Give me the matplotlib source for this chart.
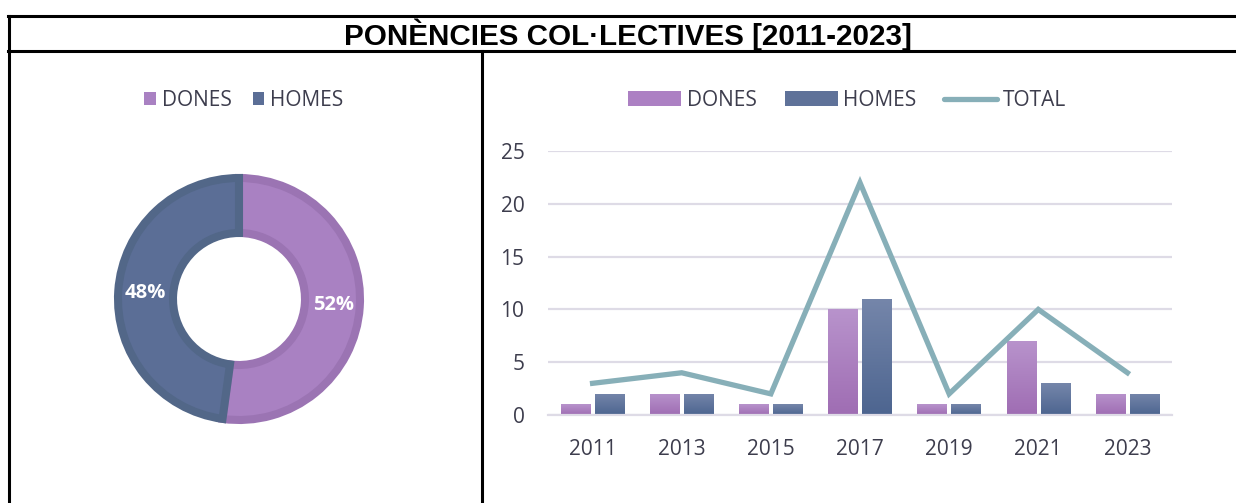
import numpy as np
import matplotlib
matplotlib.use('Agg')
import matplotlib.pyplot as plt
from matplotlib.colors import LinearSegmentedColormap
from matplotlib.patches import Patch
from matplotlib.lines import Line2D

# Dades
anys = ['2011', '2013', '2015', '2017', '2019', '2021', '2023']
dones = [1, 2, 1, 10, 1, 7, 2]
homes = [2, 2, 1, 11, 1, 3, 2]
total = [3, 4, 2, 22, 2, 10, 4]
etiquetes = ['DONES', 'HOMES']

plt.rcParams['font.family'] = ['Open Sans', 'DejaVu Sans']
text_color = '#3d3d4d'

fig = plt.figure(figsize=(12.36, 5.03), dpi=100)
W, H = 1236, 503

def fx(px):
    return px / W

def fy(py):
    return 1 - py / H

# Marc de la taula
lw = 2.2
fig.add_artist(Line2D([fx(8), 1], [fy(16), fy(16)], color='black', lw=lw))
fig.add_artist(Line2D([fx(8), 1], [fy(51), fy(51)], color='black', lw=lw))
fig.add_artist(Line2D([fx(9), fx(9)], [fy(16), 0], color='black', lw=lw))
fig.add_artist(Line2D([fx(482), fx(482)], [fy(51), 0], color='black', lw=lw))
fig.text(fx(628), fy(34.5), 'PONÈNCIES COL·LECTIVES [2011-2023]', ha='center', va='center',
         fontsize=21.3, fontweight='bold', family=['Liberation Sans', 'DejaVu Sans'])

# Donut
suma = [sum(dones), sum(homes)]
fill_cols = ['#a981c2', '#5b6e96']
edge_cols = ['#9b74b3', '#526788']
ax1 = fig.add_axes([fx(239 - 150), fy(299 + 150), fx(300), 300 / H])
wedges, _, autotexts = ax1.pie(suma, colors=fill_cols, startangle=90, counterclock=False,
                               radius=0.968, autopct='%1.0f%%', pctdistance=0.78,
                               wedgeprops=dict(width=0.44, linewidth=5.8),
                               textprops=dict(color='white', fontsize=14.5, fontweight='bold'))
for w, ec in zip(wedges, edge_cols):
    w.set_edgecolor(ec)
ax1.set_xlim(-1.2, 1.2)
ax1.set_ylim(-1.2, 1.2)
ax1.set_aspect('equal')
ax1.axis('off')

h1 = [Patch(facecolor=c, edgecolor='none') for c in fill_cols]
fig.legend(h1, etiquetes, loc='center', bbox_to_anchor=(fx(244), fy(100.5)), ncol=2, frameon=False,
           fontsize=15, handlelength=0.55, handleheight=0.55, handletextpad=0.3,
           columnspacing=1.0, labelcolor=text_color)

# Barres + línia
ax2 = fig.add_axes([fx(548), fy(415), fx(624), 264 / H])
x = np.arange(len(anys))
bw = 0.33
off = 0.19
b1 = ax2.bar(x - off, dones, bw, color='#ab7fc2', zorder=2)
b2 = ax2.bar(x + off, homes, bw, color='#5f7299', zorder=2)

grad_d = LinearSegmentedColormap.from_list('d', ['#9f6db3', '#b893cc'])
grad_h = LinearSegmentedColormap.from_list('h', ['#4d6590', '#7586aa'])
g = np.linspace(0, 1, 100).reshape(-1, 1)
for bars, cm in [(b1, grad_d), (b2, grad_h)]:
    for b in bars:
        bx, by = b.get_x(), b.get_y()
        im = ax2.imshow(g, cmap=cm, origin='lower', aspect='auto', zorder=2.5,
                        extent=[bx, bx + b.get_width(), by, by + b.get_height()])
        im.set_clip_path(b)

ax2.plot(x, total, color='#87afb8', lw=3.8, zorder=3, solid_joinstyle='miter')

ax2.set_xlim(-0.5, len(anys) - 0.5)
ax2.set_ylim(0, 25)
ax2.set_yticks([0, 5, 10, 15, 20, 25])
ax2.set_xticks(x)
ax2.set_xticklabels(anys)
ax2.grid(axis='y', color='#dedbe6', lw=1.6, zorder=0)
for s in ['top', 'right', 'left']:
    ax2.spines[s].set_visible(False)
ax2.spines['bottom'].set_color('#dedbe6')
ax2.spines['bottom'].set_linewidth(1.6)
ax2.tick_params(axis='both', length=0, labelsize=15, labelcolor=text_color)
ax2.tick_params(axis='x', pad=17)
ax2.tick_params(axis='y', pad=17)

h2 = [Patch(facecolor='#ac80c3'), Patch(facecolor='#5f7299'),
      Line2D([], [], color='#87afb8', lw=3.8, solid_capstyle='round')]
fig.legend(h2, ['DONES', 'HOMES', 'TOTAL'], loc='center', bbox_to_anchor=(fx(847), fy(100.5)),
           ncol=3, frameon=False, fontsize=15, handlelength=2.55, handleheight=0.7,
           handletextpad=0.25, columnspacing=1.35, labelcolor=text_color)

fig.savefig('out.png', dpi=100)
